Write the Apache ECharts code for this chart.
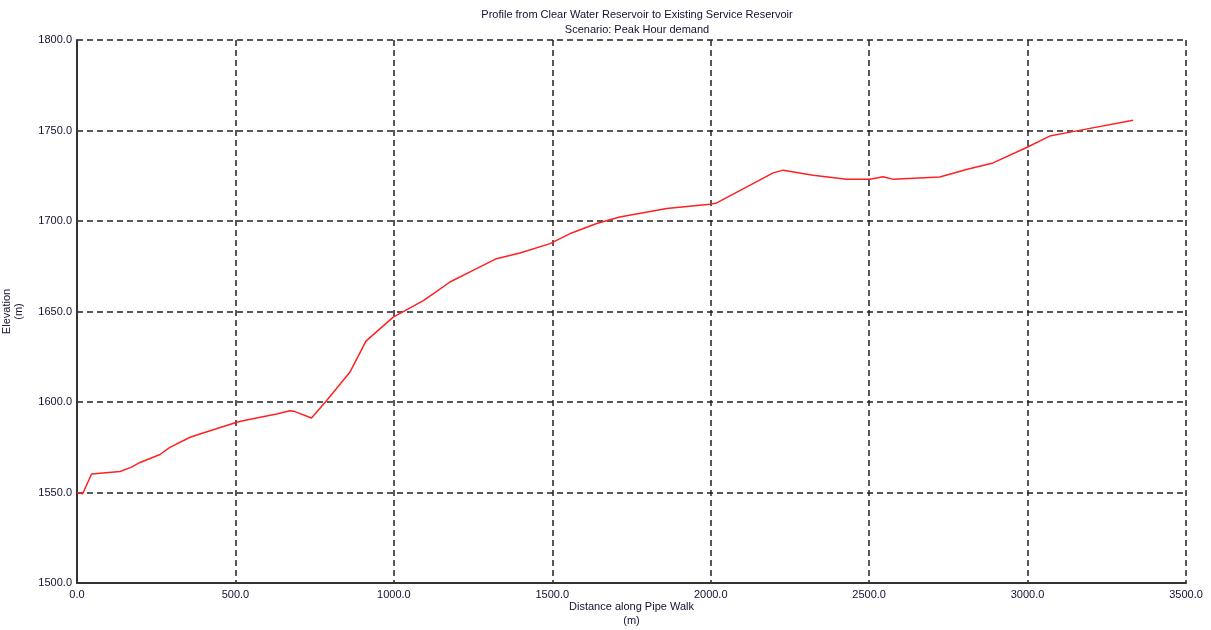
<!DOCTYPE html>
<html>
<head>
<meta charset="utf-8">
<script src="https://cdn.jsdelivr.net/npm/echarts@6/dist/echarts.min.js"></script>
<style>html,body{margin:0;padding:0;background:#fff;}#c{width:1211px;height:630px;}</style>
</head>
<body>
<div id="c"></div>
<script>
const titleLines = ["Profile from Clear Water Reservoir to Existing Service Reservoir", "Scenario: Peak Hour demand"];
const xAxisName = "Distance along Pipe Walk\n(m)";
const yAxisName = "Elevation\n(m)";
const distance = [0, 18, 46, 136, 172, 199, 262, 293, 357, 388, 504, 535, 630, 672, 688, 740, 788, 861, 912, 998, 1093, 1124, 1177, 1250, 1324, 1398, 1493, 1561, 1640, 1713, 1861, 1997, 2019, 2197, 2229, 2323, 2429, 2502, 2544, 2576, 2723, 2807, 2891, 2997, 3070, 3155, 3333];
const elevation = [1550.0, 1549.3, 1560.2, 1561.6, 1564.0, 1566.6, 1571.0, 1574.9, 1580.5, 1582.3, 1588.8, 1590.0, 1593.4, 1595.2, 1594.7, 1591.2, 1600.8, 1616.4, 1633.6, 1646.9, 1656.0, 1659.8, 1666.3, 1672.7, 1679.2, 1682.3, 1687.5, 1693.4, 1698.6, 1702.2, 1706.9, 1709.2, 1710.0, 1726.6, 1728.1, 1725.3, 1723.1, 1723.1, 1724.4, 1723.0, 1724.3, 1728.4, 1732.1, 1740.6, 1746.9, 1749.8, 1755.7];

const chart = echarts.init(document.getElementById('c'), null, {renderer: 'canvas'});
const font = 'Liberation Sans, Arial, sans-serif';
const txtColor = '#111133';
const gridLine = {show: true, lineStyle: {color: '#222', width: 1.5, type: [6, 4]}};
chart.setOption({
  animation: false,
  backgroundColor: '#fff',
  title: {
    text: titleLines.join('\n'),
    left: 632, top: 2, textAlign: 'center',
    textStyle: {fontFamily: font, fontSize: 11, fontWeight: 'normal', color: txtColor, lineHeight: 15}
  },
  grid: {left: 77, right: 25, top: 40, bottom: 47, containLabel: false, outerBoundsMode: 'none'},
  xAxis: {
    type: 'value', min: 0, max: 3500, interval: 500,
    name: xAxisName, nameLocation: 'middle', nameGap: 17, nameMoveOverlap: false,
    nameTextStyle: {fontFamily: font, fontSize: 11, color: txtColor, lineHeight: 14},
    axisLine: {show: true, lineStyle: {color: '#333', width: 2}},
    axisTick: {show: false},
    axisLabel: {fontFamily: font, fontSize: 11, color: txtColor, margin: 6, formatter: v => v.toFixed(1)},
    splitLine: gridLine
  },
  yAxis: {
    type: 'value', min: 1500, max: 1800, interval: 50,
    name: yAxisName, nameLocation: 'middle', nameGap: 52, nameRotate: 90, nameMoveOverlap: false,
    nameTextStyle: {fontFamily: font, fontSize: 11, color: txtColor, lineHeight: 12},
    axisLine: {show: true, lineStyle: {color: '#333', width: 2}},
    axisTick: {show: false},
    axisLabel: {fontFamily: font, fontSize: 11, color: txtColor, margin: 5, formatter: v => v.toFixed(1)},
    splitLine: gridLine
  },
  series: [{
    type: 'line',
    data: distance.map((d, i) => [d, elevation[i]]),
    showSymbol: false,
    lineStyle: {color: '#ff2020', width: 1.5},
    z: 5
  }]
});
</script>
</body>
</html>
